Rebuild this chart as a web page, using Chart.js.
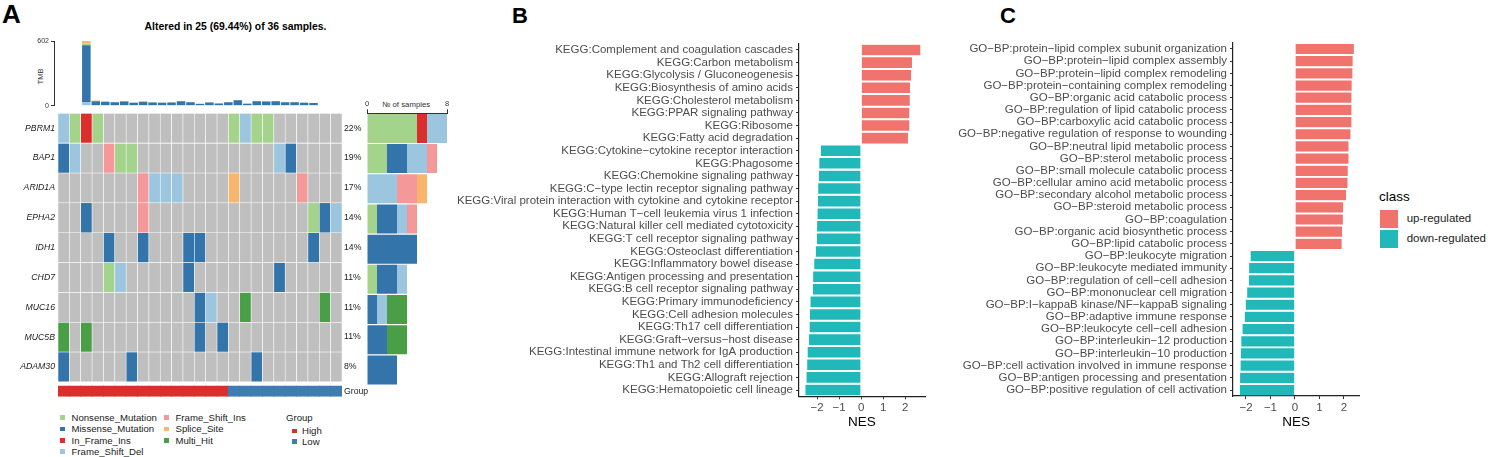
<!DOCTYPE html>
<html>
<head>
<meta charset="utf-8">
<script src="https://cdn.jsdelivr.net/npm/chart.js@4.4.1/dist/chart.umd.min.js"></script>
<style>
  body { margin: 0; background: #fff; font-family: "Liberation Sans", Arial, sans-serif; }
  #fig { position: relative; width: 1488px; height: 457px; overflow: hidden; background: #fff; }
  .t { position: absolute; white-space: nowrap; color: #222; }
  .panel { font-weight: bold; color: #000; }
  .sq { position: absolute; }
</style>
</head>
<body>
<div id="fig">
  <div class="t panel" style="left:2px;top:1px;font-size:26px;line-height:26px">A</div>
  <div class="t panel" style="left:512px;top:5px;font-size:22px;line-height:22px">B</div>
  <div class="t panel" style="left:1000px;top:5px;font-size:22px;line-height:22px">C</div>
  <div class="t" style="left:0;width:471px;top:21px;text-align:center;font-weight:bold;font-size:10.4px;line-height:12px;color:#000">Altered in 25 (69.44%) of 36 samples.</div>
  <div class="t" style="left:28px;top:72px;width:24px;text-align:center;font-size:7.5px;line-height:9px;transform:rotate(-90deg);color:#333">TMB</div>
  <div class="t" style="left:382px;top:100px;font-size:7.8px;line-height:9px;color:#333">№ of samples</div>
  <div id="legA"></div>
  <div id="legC"></div>
</div>
<script>
// ---------- panel A: oncoplot ----------
const sampleIds = ['s1','s2','s3','s4','s5','s6','s7','s8','s9','s10','s11','s12','s13',
  's14','s15','s16','s17','s18','s19','s20','s21','s22','s23','s24','s25'];
const sampleGroup = ['High','High','High','High','High','High','High','High','High','High',
  'High','High','High','High','High','Low','Low','Low','Low','Low','Low','Low','Low','Low','Low'];

const mutTypes = ['Nonsense_Mutation','Missense_Mutation','In_Frame_Ins','Frame_Shift_Del',
  'Frame_Shift_Ins','Splice_Site','Multi_Hit'];
const mutCodes = ['N','M','I','D','F','S','H'];
const mutColors = ['#A4D38B','#3375AB','#DD2E2E','#9CC6DF','#F59899','#F8B56C','#4A9E46'];

const genes = ['PBRM1','BAP1','ARID1A','EPHA2','IDH1','CHD7','MUC16','MUC5B','ADAM30'];
const genePct = ['22%','19%','17%','14%','14%','11%','11%','11%','8%'];
// one char per sample, '.' = no mutation
const mutRows = [
  'DNIN...........NDNN......',
  'MD..FNN............DM....',
  '.......FDDD....S.....F...',
  '..M....F..............NMD',
  '....M..M...MM.........M..',
  '....ND.....M.......M.....',
  '............MD..H......H.',
  'H.H.........M.M..........',
  'M.....M..........M.......'
];

// TMB per sample, stacked bottom to top
const tmbFrameShiftDel = [36,0,0,0,0,0,0,0,0,0,0,0,0,0,0,0,0,0,0,0,0,0,0,0,0];
const tmbInFrameIns    = [8,0,0,0,0,0,0,0,0,0,0,0,0,0,0,0,0,0,0,0,0,0,0,0,0];
const tmbMissense      = [519,42,37,34,40,28,37,31,28,31,43,34,17,31,22,34,51,20,43,40,43,34,34,28,25];
const tmbNonsense      = [15,3,2,2,5,0,2,0,2,2,2,2,0,2,0,2,3,2,2,2,2,2,2,2,0];
const tmbSplice        = [24,5,0,0,0,2,0,2,0,0,0,0,4,0,2,0,0,0,0,0,0,0,0,0,2];

// ---------- panel B ----------
const keggTerms = [
  'KEGG:Complement and coagulation cascades','KEGG:Carbon metabolism',
  'KEGG:Glycolysis / Gluconeogenesis','KEGG:Biosynthesis of amino acids',
  'KEGG:Cholesterol metabolism','KEGG:PPAR signaling pathway','KEGG:Ribosome',
  'KEGG:Fatty acid degradation','KEGG:Cytokine−cytokine receptor interaction',
  'KEGG:Phagosome','KEGG:Chemokine signaling pathway',
  'KEGG:C−type lectin receptor signaling pathway',
  'KEGG:Viral protein interaction with cytokine and cytokine receptor',
  'KEGG:Human T−cell leukemia virus 1 infection',
  'KEGG:Natural killer cell mediated cytotoxicity','KEGG:T cell receptor signaling pathway',
  'KEGG:Osteoclast differentiation','KEGG:Inflammatory bowel disease',
  'KEGG:Antigen processing and presentation','KEGG:B cell receptor signaling pathway',
  'KEGG:Primary immunodeficiency','KEGG:Cell adhesion molecules',
  'KEGG:Th17 cell differentiation','KEGG:Graft−versus−host disease',
  'KEGG:Intestinal immune network for IgA production','KEGG:Th1 and Th2 cell differentiation',
  'KEGG:Allograft rejection','KEGG:Hematopoietic cell lineage'
];
const keggNES = [2.71,2.33,2.29,2.24,2.23,2.21,2.21,2.15,-1.85,-1.92,-1.94,-1.97,-1.98,-2.0,
  -2.02,-2.03,-2.08,-2.15,-2.2,-2.21,-2.32,-2.35,-2.36,-2.39,-2.45,-2.47,-2.5,-2.55];

// ---------- panel C ----------
const goTerms = [
  'GO−BP:protein−lipid complex subunit organization','GO−BP:protein−lipid complex assembly',
  'GO−BP:protein−lipid complex remodeling','GO−BP:protein−containing complex remodeling',
  'GO−BP:organic acid catabolic process','GO−BP:regulation of lipid catabolic process',
  'GO−BP:carboxylic acid catabolic process','GO−BP:negative regulation of response to wounding',
  'GO−BP:neutral lipid metabolic process','GO−BP:sterol metabolic process',
  'GO−BP:small molecule catabolic process','GO−BP:cellular amino acid metabolic process',
  'GO−BP:secondary alcohol metabolic process','GO−BP:steroid metabolic process',
  'GO−BP:coagulation','GO−BP:organic acid biosynthetic process','GO−BP:lipid catabolic process',
  'GO−BP:leukocyte migration','GO−BP:leukocyte mediated immunity',
  'GO−BP:regulation of cell−cell adhesion','GO−BP:mononuclear cell migration',
  'GO−BP:I−kappaB kinase/NF−kappaB signaling','GO−BP:adaptive immune response',
  'GO−BP:leukocyte cell−cell adhesion','GO−BP:interleukin−12 production',
  'GO−BP:interleukin−10 production','GO−BP:cell activation involved in immune response',
  'GO−BP:antigen processing and presentation','GO−BP:positive regulation of cell activation'
];
const goNES = [2.43,2.38,2.37,2.34,2.33,2.33,2.33,2.29,2.21,2.21,2.18,2.17,2.11,1.99,1.98,1.95,1.93,
  -1.83,-1.89,-1.9,-1.97,-2.03,-2.07,-2.16,-2.21,-2.23,-2.24,-2.26,-2.27];
const nesTicks = [-2,-1,0,1,2];
const classNames = ['up-regulated','down-regulated'];

const UP = '#F0736D', DOWN = '#20B8B9', CELL_BG = '#BFBFBF';
const groupColors = { High: '#D9302E', Low: '#3E7CB1' };

Chart.defaults.font.family = '"Liberation Sans", Arial, sans-serif';
Chart.defaults.color = '#333';
Chart.defaults.animation = false;
Chart.defaults.responsive = false;
Chart.defaults.plugins.legend.display = false;
Chart.defaults.plugins.tooltip.enabled = false;

const fig = document.getElementById('fig');
function mk(left, top, w, h) {
  const c = document.createElement('canvas');
  c.width = w; c.height = h;
  c.style.cssText = `position:absolute;left:${left}px;top:${top}px;width:${w}px;height:${h}px`;
  fig.appendChild(c);
  return c;
}
const tickVals = arr => s => { s.ticks = arr.map(v => ({ value: v })); };
const minus = v => String(v).replace('-', '−');

// TMB bars on top
const tmbSeries = [
  [tmbFrameShiftDel, 3], [tmbInFrameIns, 2], [tmbMissense, 1], [tmbNonsense, 0], [tmbSplice, 5]
];
new Chart(mk(0, 30, 345, 82), {
  type: 'bar',
  data: {
    datasets: tmbSeries.map(([vals, t]) => ({
      label: mutTypes[t],
      data: vals.map((v, i) => ({ x: i + 0.5, y: v })),
      backgroundColor: mutColors[t],
      barPercentage: 0.9, categoryPercentage: 1
    }))
  },
  options: {
    layout: { padding: { top: 11, right: 2.7, bottom: 4, left: 0 } },
    scales: {
      x: { type: 'linear', stacked: true, min: -0.378, max: 25, display: false },
      y: {
        stacked: true, min: 0, max: 602,
        afterFit: s => { s.width = 54; },
        afterBuildTicks: tickVals([0, 602]),
        grid: { drawOnChartArea: false, tickLength: 3, color: '#333' },
        border: { color: '#333' },
        ticks: { font: { size: 7 }, padding: 2, color: '#333' }
      }
    }
  }
});

// mutation matrix + group bar
const matrixSets = genes.map((g, gi) => ({
  label: g,
  data: sampleIds.map(() => [gi, gi + 1]),
  backgroundColor: mutRows[gi].split('').map(c => c === '.' ? CELL_BG : mutColors[mutCodes.indexOf(c)]),
  borderColor: '#fff', borderWidth: 0.6, borderSkipped: false,
  grouped: false, barPercentage: 1, categoryPercentage: 1
}));
matrixSets.push({
  label: 'Group',
  data: sampleIds.map(() => [9.13, 9.5]),
  backgroundColor: sampleGroup.map(g => groupColors[g]),
  borderWidth: 0, grouped: false, barPercentage: 1.08, categoryPercentage: 1
});
const rowTicks = genes.map((g, i) => i + 0.5);
const rightLabels = genePct.concat(['Group']);
new Chart(mk(0, 105, 400, 300), {
  type: 'bar',
  data: { labels: sampleIds, datasets: matrixSets },
  options: {
    layout: { padding: { top: 8.3, right: 0, bottom: 5, left: 0 } },
    scales: {
      x: { display: false },
      y: {
        type: 'linear', reverse: true, min: 0, max: 9.5,
        afterFit: s => { s.width = 58; },
        afterBuildTicks: tickVals(rowTicks),
        grid: { display: false, drawTicks: false }, border: { display: false },
        ticks: { autoSkip: false, padding: 3, color: '#222',
          font: { size: 8.7, style: 'italic' }, callback: (v, i) => genes[i] }
      },
      y2: {
        type: 'linear', position: 'right', reverse: true, min: 0, max: 9.5,
        afterFit: s => { s.width = 58; },
        afterBuildTicks: tickVals(rowTicks.concat([9.315])),
        grid: { display: false, drawTicks: false }, border: { display: false },
        ticks: { autoSkip: false, padding: 2, color: '#222',
          font: { size: 8.7 }, callback: (v, i) => rightLabels[i] }
      }
    }
  }
});

// number of samples per gene
new Chart(mk(355, 85, 100, 310), {
  type: 'bar',
  data: {
    labels: genes,
    datasets: mutTypes.map((t, ti) => ({
      label: t,
      data: mutRows.map(r => r.split('').filter(c => c === mutCodes[ti]).length),
      backgroundColor: mutColors[ti],
      barPercentage: 0.96, categoryPercentage: 1
    }))
  },
  options: {
    indexAxis: 'y',
    layout: { padding: { top: 10.3, right: 8, bottom: 10, left: 12 } },
    scales: {
      y: { stacked: true, display: false },
      x: {
        stacked: true, position: 'top', min: 0, max: 8,
        afterFit: s => { s.height = 18; },
        afterBuildTicks: tickVals([0, 8]),
        grid: { drawOnChartArea: false, tickLength: 4, color: '#333' },
        border: { color: '#333' },
        ticks: { font: { size: 7.5 }, padding: 1, color: '#333' }
      }
    }
  }
});

// ---------- NES bar charts ----------
function nesChart(canvas, terms, nes, yWidth, xmin, xmax, pad) {
  return new Chart(canvas, {
    type: 'bar',
    data: {
      labels: terms,
      datasets: [
        { label: classNames[0], data: nes.map(v => v > 0 ? v : null), backgroundColor: UP },
        { label: classNames[1], data: nes.map(v => v < 0 ? v : null), backgroundColor: DOWN }
      ].map(d => Object.assign(d, { grouped: false, barPercentage: 0.92, categoryPercentage: 1,
        borderColor: 'rgba(255,255,255,0.6)', borderWidth: 0.5 }))
    },
    options: {
      indexAxis: 'y',
      layout: { padding: pad },
      scales: {
        y: {
          afterFit: s => { s.width = yWidth; },
          grid: { offset: false, drawOnChartArea: false, tickLength: 3, color: '#333' },
          border: { color: '#222', width: 1.2 },
          ticks: { autoSkip: false, padding: 3, color: '#4d4d4d', font: { size: 11.5 } }
        },
        x: {
          min: xmin, max: xmax,
          afterFit: s => { s.height = 42; },
          afterBuildTicks: tickVals(nesTicks),
          grid: { drawOnChartArea: false, tickLength: 3, color: '#333' },
          border: { color: '#222', width: 1.2 },
          ticks: { padding: 2, color: '#4d4d4d', font: { size: 11.5 }, callback: minus },
          title: { display: true, text: 'NES', color: '#000', font: { size: 13.5 },
            padding: { top: 8, bottom: 8 } }
        }
      }
    }
  });
}
nesChart(mk(450, 30, 490, 425), keggTerms, keggNES, 349, -2.82, 2.9,
  { top: 13.7, right: 15, bottom: 16.7, left: 0 });
nesChart(mk(940, 30, 430, 425), goTerms, goNES, 293, -2.53, 2.64,
  { top: 12.9, right: 10.5, bottom: 16.9, left: 0 });

// ---------- legends ----------
function item(parent, x, y, color, text, box, gap, size) {
  const s = document.createElement('div');
  s.className = 'sq';
  s.style.cssText = `left:${x}px;top:${y - box / 2}px;width:${box}px;height:${box}px;background:${color}`;
  parent.appendChild(s);
  const t = document.createElement('div');
  t.className = 't';
  t.style.cssText = `left:${x + box + gap}px;top:${y - size * 0.6}px;font-size:${size}px;line-height:${size * 1.2}px;color:#222`;
  t.textContent = text;
  parent.appendChild(t);
}
const legA = document.getElementById('legA');
const legRowsY = [417.7, 429, 440.3, 451.5];
mutTypes.forEach((t, i) => {
  const col = i < 4 ? 0 : 1, row = i < 4 ? i : i - 4;
  item(legA, col ? 164 : 60, legRowsY[row], mutColors[i], t, 4.5, 7, 9.6);
});
const gt = document.createElement('div');
gt.className = 't';
gt.style.cssText = 'left:286px;top:412px;font-size:9.6px;line-height:11.5px;color:#222';
gt.textContent = 'Group';
legA.appendChild(gt);
item(legA, 292, 431, groupColors.High, 'High', 4.5, 5.5, 9.6);
item(legA, 292, 441.7, groupColors.Low, 'Low', 4.5, 5.5, 9.6);

const legC = document.getElementById('legC');
const ct = document.createElement('div');
ct.className = 't';
ct.style.cssText = 'left:1379px;top:189px;font-size:13.5px;line-height:16px;color:#000';
ct.textContent = 'class';
legC.appendChild(ct);
item(legC, 1380, 219, UP, classNames[0], 18, 8.7, 11.5);
item(legC, 1380, 239, DOWN, classNames[1], 18, 8.7, 11.5);
</script>
</body>
</html>
